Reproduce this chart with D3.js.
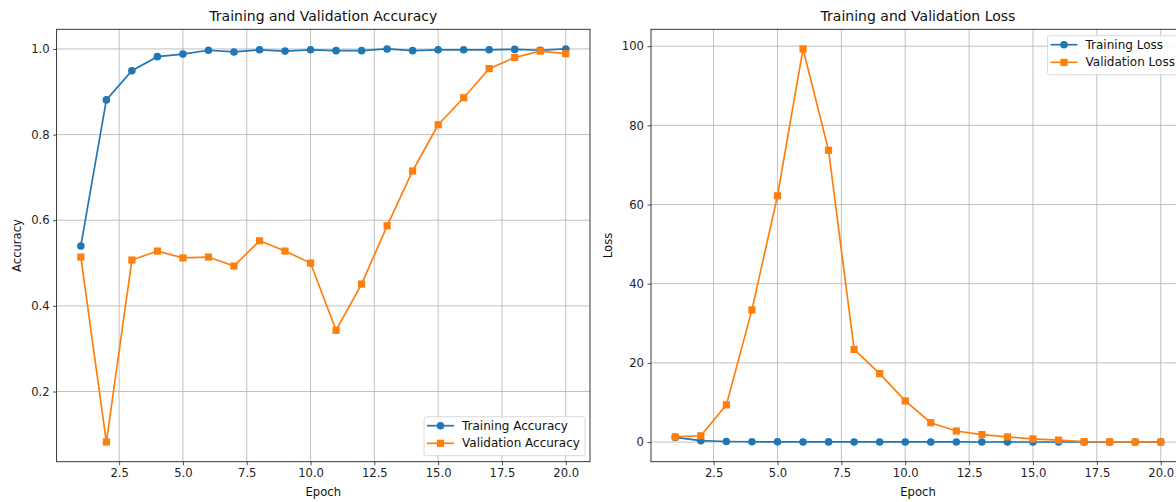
<!DOCTYPE html>
<html><head><meta charset="utf-8">
<script src="https://cdn.jsdelivr.net/npm/d3@7"></script>
<style>
html,body{margin:0;padding:0;background:#fff;}
svg{display:block;font-family:"DejaVu Sans",sans-serif;}
</style></head>
<body><svg id="chart" width="1176" height="502"></svg>
<script>
const epochs = [1,2,3,4,5,6,7,8,9,10,11,12,13,14,15,16,17,18,19,20];
const trainAcc = [0.540,0.881,0.949,0.982,0.988,0.997,0.993,0.998,0.995,0.998,0.996,0.996,1.000,0.996,0.998,0.998,0.998,0.999,0.997,1.000];
const valAcc = [0.514,0.082,0.507,0.528,0.512,0.514,0.493,0.552,0.528,0.500,0.343,0.451,0.587,0.715,0.823,0.886,0.954,0.980,0.995,0.989];
const trainLoss = [1.20,0.35,0.15,0.09,0.06,0.04,0.05,0.03,0.04,0.03,0.03,0.03,0.02,0.03,0.02,0.02,0.02,0.01,0.02,0.01];
const valLoss = [1.3,1.6,9.4,33.4,62.2,99.3,73.7,23.4,17.3,10.4,4.9,2.8,1.9,1.3,0.8,0.5,0.1,0.05,0.03,0.02];
const xTicks = [2.5,5.0,7.5,10.0,12.5,15.0,17.5,20.0];
const accTicks = [0.2,0.4,0.6,0.8,1.0];
const lossTicks = [0,20,40,60,80,100];

const C1 = "#1f77b4", C2 = "#ff7f0e";
const svg = d3.select("#chart");

function panel(opt){
  const {left,right,top,bottom,yData,yTicks,yFmt,title,ylabel,series,legend} = opt;
  const g = svg.append("g");
  const x = d3.scaleLinear().domain([1-0.95,20+0.95]).range([left,right]);
  const all = yData.flat();
  const mn = d3.min(all), mx = d3.max(all), pad=(mx-mn)*0.05;
  const y = d3.scaleLinear().domain([mn-pad,mx+pad]).range([bottom,top]);
  // grid
  g.append("g").selectAll("line").data(xTicks).join("line")
    .attr("x1",d=>x(d)).attr("x2",d=>x(d)).attr("y1",top).attr("y2",bottom)
    .attr("stroke","#b0b0b0").attr("stroke-width",0.8);
  g.append("g").selectAll("line").data(yTicks).join("line")
    .attr("y1",d=>y(d)).attr("y2",d=>y(d)).attr("x1",left).attr("x2",right)
    .attr("stroke","#b0b0b0").attr("stroke-width",0.8);
  // axes
  const xa = g.append("g").attr("transform",`translate(0,${bottom})`)
    .call(d3.axisBottom(x).tickValues(xTicks).tickFormat(d3.format(".1f")).tickSizeInner(3.5).tickSizeOuter(0).tickPadding(3.5));
  const ya = g.append("g").attr("transform",`translate(${left},0)`)
    .call(d3.axisLeft(y).tickValues(yTicks).tickFormat(yFmt).tickSizeInner(3.5).tickSizeOuter(0).tickPadding(3.5));
  [xa,ya].forEach(a=>{a.select(".domain").remove();
    a.selectAll("text").attr("font-size",11.6).attr("fill","#222").attr("font-family","DejaVu Sans");
    a.selectAll("line").attr("stroke","#222").attr("stroke-width",0.8);});
  // series
  const sg = g.append("g");
  series.forEach(s=>{
    const pts = epochs.map((e,i)=>[e,s.values[i]]);
    sg.append("path").datum(pts).attr("fill","none").attr("stroke",s.color).attr("stroke-width",1.7)
      .attr("d",d3.line().x(d=>x(d[0])).y(d=>y(d[1])));
    if(s.marker==="o"){
      sg.append("g").selectAll("circle").data(pts).join("circle")
        .attr("cx",d=>x(d[0])).attr("cy",d=>y(d[1])).attr("r",3.8).attr("fill",s.color);
    } else {
      sg.append("g").selectAll("rect").data(pts).join("rect")
        .attr("x",d=>x(d[0])-3.6).attr("y",d=>y(d[1])-3.6).attr("width",7.2).attr("height",7.2).attr("fill",s.color);
    }
  });
  // frame
  g.append("rect").attr("x",left).attr("y",top).attr("width",right-left).attr("height",bottom-top)
    .attr("fill","none").attr("stroke","#222").attr("stroke-width",0.9);
  // title & labels
  g.append("text").attr("x",(left+right)/2).attr("y",top-8).attr("text-anchor","middle")
    .attr("font-size",14).attr("fill","#111").text(title);
  g.append("text").attr("x",(left+right)/2).attr("y",bottom+34).attr("text-anchor","middle")
    .attr("font-size",11.6).attr("fill","#111").text("Epoch");
  g.append("text").attr("transform",`translate(${opt.ylabelX},${(top+bottom)/2}) rotate(-90)`)
    .attr("text-anchor","middle").attr("font-size",11.6).attr("fill","#111").text(ylabel);
  // legend
  const lg = g.append("g").attr("transform",`translate(${legend.x},${legend.y})`);
  lg.append("rect").attr("x",0).attr("y",0).attr("width",legend.w).attr("height",39).attr("rx",2.5)
    .attr("fill","#fff").attr("fill-opacity",0.85).attr("stroke","#d0d0d0").attr("stroke-width",0.8);
  series.forEach((s,i)=>{
    const yy = 9 + i*17.6;
    lg.append("line").attr("x1",3).attr("x2",30).attr("y1",yy).attr("y2",yy).attr("stroke",s.color).attr("stroke-width",1.7);
    if(s.marker==="o") lg.append("circle").attr("cx",16.5).attr("cy",yy).attr("r",3.8).attr("fill",s.color);
    else lg.append("rect").attr("x",12.9).attr("y",yy-3.6).attr("width",7.2).attr("height",7.2).attr("fill",s.color);
    lg.append("text").attr("x",38).attr("y",yy).attr("dy","0.35em").attr("font-size",12).attr("fill","#111").text(s.name);
  });
}

panel({left:56.6,right:590,top:29.3,bottom:461.7,
  yData:[trainAcc,valAcc],yTicks:accTicks,yFmt:d3.format(".1f"),
  title:"Training and Validation Accuracy",ylabel:"Accuracy",ylabelX:21,
  series:[{name:"Training Accuracy",values:trainAcc,color:C1,marker:"o"},
          {name:"Validation Accuracy",values:valAcc,color:C2,marker:"s"}],
  legend:{x:424,y:416.7,w:161}});
panel({left:651,right:1185,top:29.3,bottom:461.7,
  yData:[trainLoss,valLoss],yTicks:lossTicks,yFmt:d3.format("d"),
  title:"Training and Validation Loss",ylabel:"Loss",ylabelX:612,
  series:[{name:"Training Loss",values:trainLoss,color:C1,marker:"o"},
          {name:"Validation Loss",values:valLoss,color:C2,marker:"s"}],
  legend:{x:1047.5,y:35.7,w:132}});
</script></body></html>
